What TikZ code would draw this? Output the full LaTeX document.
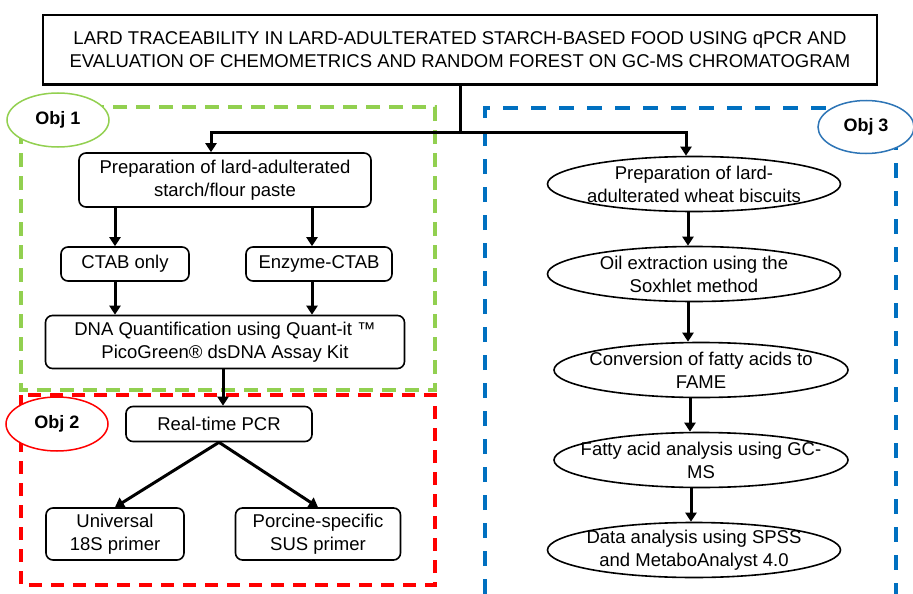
\documentclass[tikz,border=0pt]{standalone}
\usepackage{fontspec}
\setmainfont{Liberation Sans}
\usetikzlibrary{shapes.geometric,arrows.meta}
\definecolor{objgreen}{HTML}{92D050}
\definecolor{objred}{HTML}{FF0000}
\definecolor{objblue}{HTML}{0070C0}
\definecolor{tagblue}{HTML}{2E75B6}
\begin{document}
\begin{tikzpicture}[x=1pt,y=-1pt,
  every node/.style={font=\fontsize{18.5}{23}\selectfont, align=center, inner sep=0pt},
  titlebox/.style={draw, line width=2pt, minimum width=834pt, minimum height=69pt},
  stepbox/.style={draw, rounded corners=7pt, line width=1.6pt},
  % fixed-size ellipse; its text sits in a centred label so the outline does not grow
  oval/.style={draw, ellipse, line width=1.6pt, minimum width=293pt, minimum height=55pt,
    label={[align=center]center:#1}},
  tag/.style={draw, ellipse, fill=white, line width=1.5pt, minimum width=102pt, minimum height=54pt, font=\fontsize{18}{22}\selectfont\bfseries},
  region/.style={line width=3.2pt},
  arr/.style={line width=3pt, -{Triangle[length=9pt,width=11pt]}}]
\useasboundingbox (0,0) rectangle (913,594);

% objective regions
\draw[region, objgreen, dash pattern=on 14pt off 9pt] (21,107) rectangle (435,390);
\draw[region, objred, dash pattern=on 13pt off 9pt] (21,395) rectangle (435,585);
\draw[region, objblue, dash pattern=on 15pt off 13pt] (485,594) -- (485,108) -- (896,108) -- (896,594);

% title
\node[titlebox] (title) at (460,50) {LARD TRACEABILITY IN LARD-ADULTERATED STARCH-BASED FOOD USING qPCR AND\\EVALUATION OF CHEMOMETRICS AND RANDOM FOREST ON GC-MS CHROMATOGRAM};

% objective 1 and 2 steps
\node[stepbox, minimum width=292pt, minimum height=54pt] (prep) at (225,180) {Preparation of lard-adulterated\\starch/flour paste};
\node[stepbox, minimum width=128pt, minimum height=34pt] (ctab) at (125,264) {CTAB only};
\node[stepbox, minimum width=146pt, minimum height=34pt] (enz) at (319,264) {Enzyme-CTAB};
\node[stepbox, minimum width=359pt, minimum height=53pt] (dna) at (225,342) {DNA Quantification using Quant-it ™\\PicoGreen® dsDNA Assay Kit};
\node[stepbox, minimum width=186pt, minimum height=35pt] (pcr) at (219,424) {Real-time PCR};
\node[stepbox, minimum width=138pt, minimum height=52pt] (univ) at (115,534) {Universal\\18S primer};
\node[stepbox, minimum width=165pt, minimum height=52pt] (porc) at (318,534) {Porcine-specific\\SUS primer};

% objective 3 steps
\node[oval={Preparation of lard-\\adulterated wheat biscuits}] (wheat) at (694,184) {};
\node[oval={Oil extraction using the\\Soxhlet method}] (oil) at (694,274) {};
\node[oval={Conversion of fatty acids to\\FAME}, minimum width=294pt] (fame) at (701,370) {};
\node[oval={Fatty acid analysis using GC-\\MS}, minimum width=294pt] (gcms) at (701,460) {};
\node[oval={Data analysis using SPSS\\and MetaboAnalyst 4.0}] (data) at (694,550) {};

% objective tags
\node[tag, draw=objgreen] (obj1) at (58,120) {Obj 1};
\node[tag, draw=objred] (obj2) at (57,424) {Obj 2};
\node[tag, draw=tagblue, minimum width=96pt, minimum height=53pt] (obj3) at (866,127) {Obj 3};

% connectors
\coordinate (split) at (460,132);
\draw[line width=3pt] (title.south) -- (split);
\draw[arr] (split) -| ([xshift=-14pt]prep.north);
\draw[arr] (split) -| ([xshift=-8pt]wheat.north);

\draw[arr] ([xshift=-110pt]prep.south) -- ([xshift=-10pt]ctab.north);
\draw[arr] ([xshift=87pt]prep.south) -- ([xshift=-7pt]enz.north);
\draw[arr] ([xshift=-10pt]ctab.south) -- ([xshift=-110pt]dna.north);
\draw[arr] ([xshift=-7pt]enz.south) -- ([xshift=87pt]dna.north);
\draw[arr] ([xshift=-2pt]dna.south) -- ([xshift=4pt]pcr.north);
\draw[arr] (pcr.south) -- (univ.north);
\draw[arr] (pcr.south) -- (porc.north);

\draw[arr] ([xshift=-6pt]wheat.south) -- ([xshift=-6pt]oil.north);
\draw[arr] ([xshift=-6pt]oil.south) -- ([xshift=-13pt]fame.north);
\draw[arr] ([xshift=-11pt]fame.south) -- ([xshift=-11pt]gcms.north);
\draw[arr] ([xshift=-10pt]gcms.south) -- ([xshift=-3pt]data.north);
\end{tikzpicture}
\end{document}
